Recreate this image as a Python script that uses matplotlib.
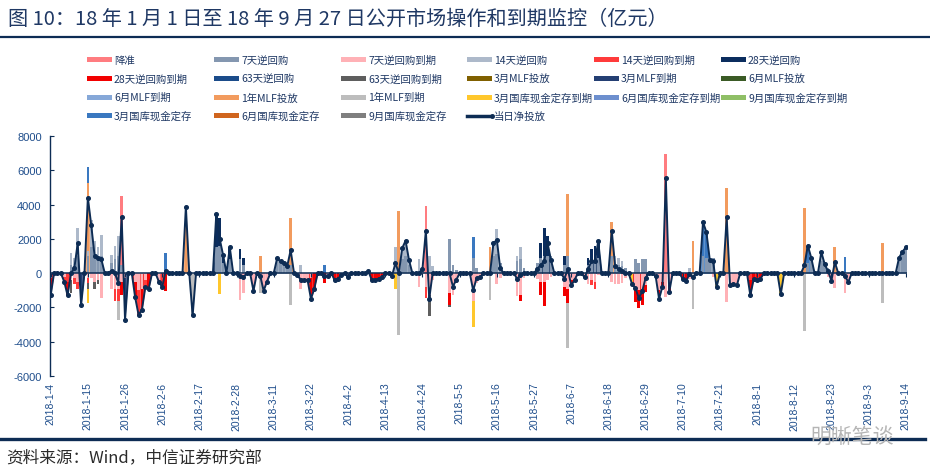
import numpy as np
import pandas as pd
import matplotlib
matplotlib.use("Agg")
import matplotlib.pyplot as plt
from matplotlib.lines import Line2D
from matplotlib.patches import Rectangle

plt.rcParams['font.family'] = ['Noto Sans CJK SC', 'DejaVu Sans']
plt.rcParams['axes.unicode_minus'] = False

# ---------------- data (亿元) ----------------
start_date = "2018-01-04"
# 当日净投放, daily from 2018-01-04
net = [
    -1300, 0, 0, 0, -490, -1300, 0, 290, 1750, -1850, 0,
    4400, 2800, 1000, 900, 800, 0, 0, 150, 0, -580, 3250,
    -2720, 0, 0, -1420, -2430, -2140, -820, -910, 0, 0, -490,
    -820, 150, 0, 0, 0, 0, 0, 3870, 0, -2470, 0,
    0, 0, 0, 0, 0, 3450, 2000, 1070, 0, 1500, 0,
    0, -150, -250, 0, 0, -1030, 0, -150, -1030, -490, 0,
    0, 870, 680, 580, 420, 1340, 0, -100, -400, -400, -400,
    -1500, -900, 0, 0, -150, -150, 0, -400, -330, -100, 0,
    -250, 0, 0, 0, 0, 0, 100, -390, -390, -330, -250,
    0, 0, -140, 580, 0, 1460, 1890, 780, 0, 0, 0,
    250, 2470, -1500, 0, 0, 0, 0, 0, 0, -780, -390,
    0, 0, 0, 0, -1010, -290, -250, 0, 0, 0, 1750,
    1940, 290, 0, 0, 0, 0, -330, -100, 0, 0, 0,
    0, 250, 490, 680, 1750, 780, 0, 0, 0, -330, 250,
    -720, -390, 0, 0, -250, 250, 680, 680, 1850, 0, 0,
    0, 2470, 390, 250, 150, 0, 0, -640, -870, -1460, -1070,
    -290, 0, 0, -190, -1500, -780, 5540, -1110, 0, 0, 0,
    -330, -450, -60, -250, 0, 0, 2980, 2390, 780, 680, -820,
    0, 0, 3250, -720, -640, -720, 0, 0, 0, -1300, -330,
    -390, -330, 0, 0, 0, 0, 0, -1230, 0, 0, 0,
    0, 0, 0, 450, 1610, 910, 0, 0, 1230, 520, 100,
    -430, 640, 0, 0, -190, -520, 0, 0, 0, 0, 0,
    0, 0, 0, 0, 0, 0, 0, 0, 0, 900, 1250,
    1500,
]

rrr = {"01-25": 4000, "04-25": 3930, "07-05": 6940}
rev7 = {"01-10": 500, "01-11": 400, "01-12": 1000, "01-15": 1000, "01-16": 1500,
        "01-17": 1000, "01-18": 800, "01-19": 1000, "01-22": 600, "01-23": 800,
        "01-24": 1000, "01-25": 500, "02-22": 1500, "02-23": 1600, "02-24": 600,
        "02-26": 800, "03-01": 800, "03-02": 500, "03-12": 870, "03-13": 680,
        "03-14": 580, "03-15": 420, "03-16": 500, "04-08": 100, "04-18": 800,
        "04-19": 1000, "04-20": 500, "04-24": 250, "05-02": 2000, "05-03": 500,
        "05-04": 200, "05-09": 900, "05-10": 300, "05-15": 1000, "05-16": 1100,
        "05-17": 600, "05-22": 700, "05-23": 800, "05-24": 300, "05-28": 600,
        "05-29": 900, "05-30": 1000, "05-31": 1000, "06-01": 1000, "06-05": 500,
        "06-06": 1000, "06-12": 500, "06-13": 600, "06-14": 700, "06-15": 900,
        "06-19": 1000, "06-20": 500, "06-21": 500, "06-22": 400, "06-23": 300,
        "06-26": 800, "06-27": 600, "06-28": 800, "06-29": 800, "07-16": 1000,
        "07-17": 900, "07-18": 780, "07-19": 900, "08-16": 600, "08-17": 910,
        "08-20": 700, "08-21": 520, "08-22": 300, "09-12": 900, "09-13": 1250,
        "09-14": 1500}
exp7 = {"01-04": 300, "01-08": 200, "01-10": 400, "01-11": 300, "01-12": 500,
        "01-15": 300, "01-16": 300, "01-17": 500, "01-18": 400, "01-19": 1450,
        "01-22": 900, "01-23": 900, "01-24": 900, "01-25": 500, "01-26": 300,
        "01-29": 520, "01-30": 1000, "01-31": 900, "02-01": 400, "02-05": 490,
        "03-01": 1550, "03-02": 1150, "03-05": 1030, "03-07": 150, "03-08": 1030,
        "03-09": 490, "03-18": 100, "03-19": 900, "03-20": 400, "03-21": 400,
        "03-22": 300, "03-27": 150, "04-02": 250, "04-15": 140, "04-23": 800,
        "04-25": 800, "04-26": 1300, "04-27": 400, "05-02": 1170, "05-03": 1280,
        "05-04": 590, "05-09": 1650, "05-10": 590, "05-11": 250, "05-16": 630,
        "05-17": 310, "05-22": 1330, "05-23": 1250, "05-24": 300, "05-28": 350,
        "05-29": 500, "05-30": 500, "05-31": 400, "06-01": 220, "06-05": 800,
        "06-06": 900, "06-07": 400, "06-08": 390, "06-11": 250, "06-12": 650,
        "06-13": 400, "06-14": 500, "06-15": 100, "06-19": 500, "06-20": 610,
        "06-21": 650, "06-22": 550, "06-23": 300, "06-26": 800, "06-27": 1000,
        "06-28": 900, "06-29": 700, "07-02": 190, "07-03": 1000, "07-04": 500,
        "07-05": 1400, "07-06": 700, "07-12": 360, "07-19": 220, "07-23": 1710,
        "07-24": 720, "07-25": 640, "07-26": 720, "08-22": 200, "08-23": 430,
        "08-24": 860, "08-27": 1160, "08-28": 520}
rev14 = {"01-10": 650, "01-11": 500, "01-12": 1650, "01-15": 300, "01-16": 1600,
         "01-17": 900, "01-18": 750, "01-19": 1250, "01-22": 450, "01-23": 800,
         "01-24": 1150, "03-19": 500, "04-16": 1500, "04-18": 660, "04-19": 890,
         "04-20": 280, "04-23": 800, "04-26": 1000, "04-27": 400, "05-15": 750,
         "05-16": 1470, "05-22": 300, "05-23": 700, "06-20": 500, "06-21": 400,
         "06-22": 300, "07-12": 300, "08-20": 530}
exp14 = {"01-08": 290, "01-09": 500, "01-11": 310, "01-12": 400, "01-15": 300,
         "01-23": 750, "01-24": 700, "01-30": 1430, "02-01": 420, "02-06": 820,
         "04-25": 660, "06-13": 320, "06-14": 420, "07-30": 400}
rev28 = {"02-22": 1950, "02-23": 1600, "02-24": 470, "02-26": 700, "03-01": 600,
         "03-02": 400, "05-29": 850, "05-30": 1620, "05-31": 1140, "06-05": 500,
         "06-12": 400, "06-13": 800, "06-14": 900, "06-15": 1050}
exp28 = {"01-04": 1000, "01-09": 800, "01-25": 750, "01-29": 900, "01-31": 1240,
         "02-02": 910, "02-07": 1020, "03-22": 1200, "03-23": 900, "03-26": 600,
         "03-29": 400, "03-30": 330, "03-31": 100, "04-09": 390, "04-10": 390,
         "04-11": 330, "04-12": 250, "05-02": 700, "05-23": 350, "05-29": 760,
         "05-30": 1440, "06-05": 530, "06-06": 850, "06-07": 320, "06-26": 870,
         "06-27": 1060, "06-28": 970, "06-29": 390, "07-03": 500, "07-04": 280,
         "07-06": 410, "07-10": 330, "07-11": 450, "07-30": 900, "07-31": 330,
         "08-01": 390, "08-02": 330}
rev63 = {}
exp63 = {"01-10": 750, "01-15": 350, "01-17": 400, "01-18": 250, "04-26": 1200,
         "05-02": 130}
mlf3 = {}
mlf3_exp = {"01-13": 1850, "01-26": 2420}
mlf6 = {}
mlf6_exp = {}
mlf1y = {"01-15": 3985, "02-13": 3870, "03-07": 1000, "03-16": 2700, "04-17": 3600,
         "05-14": 1500, "06-06": 3590, "06-19": 1970, "07-13": 1850, "07-23": 4960,
         "08-15": 3800, "08-24": 1500, "09-07": 1750}
mlf1y_exp = {"01-24": 1130, "02-15": 2470, "03-07": 1000, "03-16": 1860,
             "04-17": 3600, "05-14": 1550, "06-06": 2590, "07-13": 2100,
             "08-15": 3350, "09-07": 1750}
tcd3_exp = {"01-15": 800, "02-23": 1200, "04-16": 920, "05-09": 1500,
            "06-25": 640, "07-20": 820, "08-08": 1230}
tcd6_exp = {}
tcd9_exp = {}
tcd3 = {"01-15": 900, "02-07": 1170, "03-26": 450, "05-09": 1200, "07-16": 1980,
        "07-17": 1490, "08-16": 1010, "08-27": 970}
tcd6 = {}
tcd9 = {}

# ---------------- series definitions ----------------
legend_items = [
    ("降准", "#FF7C80", 1, rrr),
    ("7天逆回购", "#8497B0", 1, rev7),
    ("7天逆回购到期", "#FFB1B6", -1, exp7),
    ("14天逆回购", "#ADB9CA", 1, rev14),
    ("14天逆回购到期", "#FF3B3B", -1, exp14),
    ("28天逆回购", "#0B2D5E", 1, rev28),
    ("28天逆回购到期", "#F20000", -1, exp28),
    ("63天逆回购", "#1B4C8A", 1, rev63),
    ("63天逆回购到期", "#5E5E5E", -1, exp63),
    ("3月MLF投放", "#806000", 1, mlf3),
    ("3月MLF到期", "#243F73", -1, mlf3_exp),
    ("6月MLF投放", "#3B5B26", 1, mlf6),
    ("6月MLF到期", "#86A8D8", -1, mlf6_exp),
    ("1年MLF投放", "#F29B5E", 1, mlf1y),
    ("1年MLF到期", "#BDBDBD", -1, mlf1y_exp),
    ("3月国库现金定存到期", "#FFC72C", -1, tcd3_exp),
    ("6月国库现金定存到期", "#6D8FCE", -1, tcd6_exp),
    ("9月国库现金定存到期", "#8FBF66", -1, tcd9_exp),
    ("3月国库现金定存", "#3A78C0", 1, tcd3),
    ("6月国库现金定存", "#D0651E", 1, tcd6),
    ("9月国库现金定存", "#7F7F7F", 1, tcd9),
]
pos_order = ["7天逆回购", "14天逆回购", "28天逆回购", "63天逆回购", "3月MLF投放",
             "6月MLF投放", "1年MLF投放", "3月国库现金定存", "6月国库现金定存",
             "9月国库现金定存", "降准"]
neg_order = ["7天逆回购到期", "14天逆回购到期", "28天逆回购到期", "63天逆回购到期",
             "3月MLF到期", "6月MLF到期", "1年MLF到期", "3月国库现金定存到期",
             "6月国库现金定存到期", "9月国库现金定存到期"]

n = len(net)
start = pd.Timestamp(start_date)
dates = pd.date_range(start, periods=n, freq="D")
x = np.arange(n)
info = {name: (col, sgn, d) for name, col, sgn, d in legend_items}


def to_array(d):
    arr = np.zeros(n)
    for k, v in d.items():
        idx = (pd.Timestamp("2018-" + k) - start).days
        if 0 <= idx < n:
            arr[idx] = v
    return arr


arrays = {name: to_array(d) for name, (c, s, d) in info.items()}

NAVY = "#0D2C54"
TXT = "#1F3864"

W, H = 930, 477
fig = plt.figure(figsize=(W / 100, H / 100), dpi=100)
fig.patch.set_facecolor("white")

ax_l, ax_r, ax_t, ax_b = 50, 907, 137, 377
ax = fig.add_axes([ax_l / W, 1 - ax_b / H, (ax_r - ax_l) / W, (ax_b - ax_t) / H])
px_per_day = 3.38
x0 = -0.2
ax.set_xlim(x0, x0 + (ax_r - ax_l) / px_per_day)
ax.set_ylim(-6000, 8000)

# area under the net line, coloured by the day's dominant component
net_arr = np.array(net, dtype=float)
dom_col = []
for i in range(n):
    v = net_arr[i]
    best, bc = 0, "#9DAFC8"
    for name, (c, s, d) in info.items():
        val = arrays[name][i]
        if val > 0 and s * v > 0 and val > best:
            best, bc = val, c
    dom_col.append(bc)
for i in range(n - 1):
    a, b = net_arr[i], net_arr[i + 1]
    if a == 0 and b == 0:
        continue
    k = i if abs(a) >= abs(b) else i + 1
    ax.fill_between([x[i], x[i + 1]], [0, 0], [a, b], color=dom_col[k],
                    lw=0, alpha=0.8, zorder=1)

# stacked bars
bw = 0.8
bottom = np.zeros(n)
for name in pos_order:
    v = arrays[name]
    if v.any():
        ax.bar(x, v, bottom=bottom, width=bw, color=info[name][0], lw=0, zorder=2)
        bottom = bottom + v
bottom = np.zeros(n)
for name in neg_order:
    v = -arrays[name]
    if v.any():
        ax.bar(x, v, bottom=bottom, width=bw, color=info[name][0], lw=0, zorder=2)
        bottom = bottom + v

# zero axis line with ticks
ax.axhline(0, color=NAVY, lw=1.1, zorder=4)
tick_pos = list(range(0, n, 11))
ax.vlines(tick_pos, -230, 0, color=NAVY, lw=0.8, zorder=4)

# net line
ax.plot(x, net_arr, color=NAVY, lw=1.4, marker="o", ms=2.6, zorder=5)

# axes styling
for s in ["top", "right", "bottom"]:
    ax.spines[s].set_visible(False)
ax.spines["left"].set_color(NAVY)
ax.spines["left"].set_linewidth(1.0)
ax.set_yticks(range(-6000, 8001, 2000))
ax.set_yticklabels([str(v) for v in range(-6000, 8001, 2000)], fontsize=8,
                   color="#1F4E8C", family=["Liberation Sans", "DejaVu Sans"])
ax.tick_params(axis="y", direction="in", length=3, color=NAVY, pad=6)
ax.set_xticks(tick_pos)
ax.set_xticklabels([f"{d.year}-{d.month}-{d.day}" for d in dates[tick_pos]],
                   rotation=90, fontsize=7.5, color="#1F4E8C",
                   family=["Liberation Sans", "DejaVu Sans"])
ax.tick_params(axis="x", length=0, pad=4)

# ---------------- legend (manual) ----------------
col_x = [87, 214, 341, 467, 594, 721]
row_y = [60.7, 79.3, 98.3, 116.7]
items = [(nm, c) for nm, c, s, d in legend_items]
items.insert(21, ("当日净投放", None))
for k, (nm, c) in enumerate(items):
    cx = col_x[k % 6]
    cy = row_y[k // 6]
    if c is None:
        fig.add_artist(Line2D([cx / W, (cx + 25) / W], [1 - cy / H] * 2,
                              transform=fig.transFigure, color=NAVY, lw=2.5,
                              marker="o", ms=2.5, markevery=[1]))
    else:
        fig.add_artist(Rectangle((cx / W, 1 - (cy + 2.6) / H), 25 / W, 5.2 / H,
                                 transform=fig.transFigure, color=c, lw=0))
    fig.text((cx + 27) / W, 1 - cy / H, nm, fontsize=7.5, color=TXT,
             va="center", ha="left")

# ---------------- title / frame / source ----------------
fig.text(8 / W, 1 - 19 / H,
         "图 10：18 年 1 月 1 日至 18 年 9 月 27 日公开市场操作和到期监控（亿元）",
         fontsize=14.5, color=TXT, va="center", ha="left")
fig.add_artist(Line2D([0, 1], [1 - 38 / H] * 2, transform=fig.transFigure,
                      color=NAVY, lw=1.6))
fig.add_artist(Line2D([0, 925 / W], [1 - 440 / H] * 2, transform=fig.transFigure,
                      color=NAVY, lw=2.4))
fig.text(6 / W, 1 - 458 / H, "资料来源：Wind，中信证券研究部", fontsize=12,
         color="#2B2B2B", va="center", ha="left")
fig.text(810 / W, 1 - 437 / H, "明晰笔谈", fontsize=15, color="#B5B5B5",
         va="center", ha="left")

fig.savefig("out.png", dpi=100, facecolor="white")
